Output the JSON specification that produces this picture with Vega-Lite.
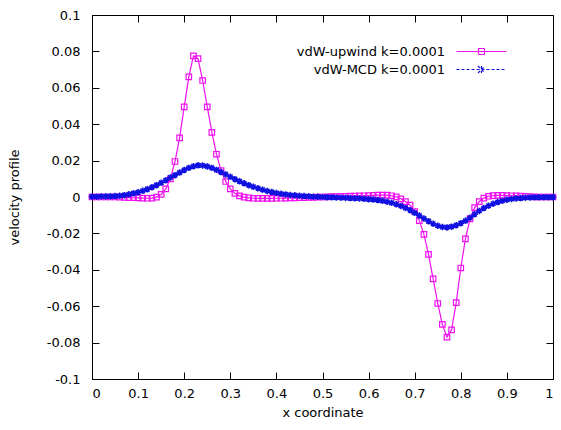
{
  "$schema": "https://vega.github.io/schema/vega-lite/v6.json",
  "width": 461,
  "height": 364,
  "autosize": {"type": "none"},
  "padding": {"left": 92, "top": 15, "right": 8, "bottom": 51},
  "background": "white",
  "config": {
    "font": "DejaVu Sans",
    "view": {"stroke": "black", "strokeWidth": 1},
    "axis": {"domain": false, "grid": false, "tickColor": "black", "tickSize": -7, "tickWidth": 1, "labelColor": "black", "labelFont": "DejaVu Sans", "labelFontSize": 13, "titleFont": "DejaVu Sans", "titleFontSize": 13, "titleFontWeight": "normal", "titleColor": "black"}
  },
  "data": {"values": [
    {"x": 0, "upwind": 0, "mcd": 0.0002},
    {"x": 0.01, "upwind": 0, "mcd": 0.0002},
    {"x": 0.02, "upwind": 0, "mcd": 0.0003},
    {"x": 0.03, "upwind": 0, "mcd": 0.0003},
    {"x": 0.04, "upwind": 0, "mcd": 0.0004},
    {"x": 0.05, "upwind": 0, "mcd": 0.0005},
    {"x": 0.06, "upwind": -0.0001, "mcd": 0.0007},
    {"x": 0.07, "upwind": -0.0002, "mcd": 0.001},
    {"x": 0.08, "upwind": -0.0003, "mcd": 0.0015},
    {"x": 0.09, "upwind": -0.0004, "mcd": 0.002},
    {"x": 0.1, "upwind": -0.0005, "mcd": 0.0026},
    {"x": 0.11, "upwind": -0.0006, "mcd": 0.0034},
    {"x": 0.12, "upwind": -0.0007, "mcd": 0.0043},
    {"x": 0.13, "upwind": -0.0006, "mcd": 0.0053},
    {"x": 0.14, "upwind": -0.0001, "mcd": 0.0065},
    {"x": 0.15, "upwind": 0.0014, "mcd": 0.0078},
    {"x": 0.16, "upwind": 0.0045, "mcd": 0.0092},
    {"x": 0.17, "upwind": 0.01, "mcd": 0.0107},
    {"x": 0.18, "upwind": 0.0195, "mcd": 0.012},
    {"x": 0.19, "upwind": 0.0325, "mcd": 0.0134},
    {"x": 0.2, "upwind": 0.0495, "mcd": 0.0148},
    {"x": 0.21, "upwind": 0.066, "mcd": 0.016},
    {"x": 0.22, "upwind": 0.0775, "mcd": 0.0169},
    {"x": 0.23, "upwind": 0.076, "mcd": 0.0174},
    {"x": 0.24, "upwind": 0.064, "mcd": 0.0173},
    {"x": 0.25, "upwind": 0.0495, "mcd": 0.0168},
    {"x": 0.26, "upwind": 0.0355, "mcd": 0.016},
    {"x": 0.27, "upwind": 0.0235, "mcd": 0.0149},
    {"x": 0.28, "upwind": 0.0145, "mcd": 0.0137},
    {"x": 0.29, "upwind": 0.0085, "mcd": 0.0124},
    {"x": 0.3, "upwind": 0.0045, "mcd": 0.0111},
    {"x": 0.31, "upwind": 0.002, "mcd": 0.0098},
    {"x": 0.32, "upwind": 0.0006, "mcd": 0.0086},
    {"x": 0.33, "upwind": -0.0001, "mcd": 0.0075},
    {"x": 0.34, "upwind": -0.0005, "mcd": 0.0065},
    {"x": 0.35, "upwind": -0.0007, "mcd": 0.0056},
    {"x": 0.36, "upwind": -0.0008, "mcd": 0.0048},
    {"x": 0.37, "upwind": -0.0008, "mcd": 0.004},
    {"x": 0.38, "upwind": -0.0008, "mcd": 0.0033},
    {"x": 0.39, "upwind": -0.0008, "mcd": 0.0027},
    {"x": 0.4, "upwind": -0.0007, "mcd": 0.0022},
    {"x": 0.41, "upwind": -0.0007, "mcd": 0.0018},
    {"x": 0.42, "upwind": -0.0006, "mcd": 0.0014},
    {"x": 0.43, "upwind": -0.0005, "mcd": 0.0011},
    {"x": 0.44, "upwind": -0.0005, "mcd": 0.0009},
    {"x": 0.45, "upwind": -0.0004, "mcd": 0.0007},
    {"x": 0.46, "upwind": -0.0003, "mcd": 0.0005},
    {"x": 0.47, "upwind": -0.0002, "mcd": 0.0004},
    {"x": 0.48, "upwind": -0.0002, "mcd": 0.0002},
    {"x": 0.49, "upwind": -0.0001, "mcd": 0.0001},
    {"x": 0.5, "upwind": 0, "mcd": 0},
    {"x": 0.51, "upwind": 0.0001, "mcd": -0.0001},
    {"x": 0.52, "upwind": 0.0002, "mcd": -0.0002},
    {"x": 0.53, "upwind": 0.0002, "mcd": -0.0003},
    {"x": 0.54, "upwind": 0.0003, "mcd": -0.0004},
    {"x": 0.55, "upwind": 0.0004, "mcd": -0.0005},
    {"x": 0.56, "upwind": 0.0005, "mcd": -0.0006},
    {"x": 0.57, "upwind": 0.0005, "mcd": -0.0007},
    {"x": 0.58, "upwind": 0.0006, "mcd": -0.0008},
    {"x": 0.59, "upwind": 0.0007, "mcd": -0.001},
    {"x": 0.6, "upwind": 0.0008, "mcd": -0.0012},
    {"x": 0.61, "upwind": 0.0009, "mcd": -0.0014},
    {"x": 0.62, "upwind": 0.001, "mcd": -0.0017},
    {"x": 0.63, "upwind": 0.001, "mcd": -0.0021},
    {"x": 0.64, "upwind": 0.001, "mcd": -0.0026},
    {"x": 0.65, "upwind": 0.0007, "mcd": -0.0032},
    {"x": 0.66, "upwind": 0.0001, "mcd": -0.004},
    {"x": 0.67, "upwind": -0.001, "mcd": -0.0049},
    {"x": 0.68, "upwind": -0.0025, "mcd": -0.006},
    {"x": 0.69, "upwind": -0.0045, "mcd": -0.0073},
    {"x": 0.7, "upwind": -0.008, "mcd": -0.0087},
    {"x": 0.71, "upwind": -0.013, "mcd": -0.0102},
    {"x": 0.72, "upwind": -0.0205, "mcd": -0.0118},
    {"x": 0.73, "upwind": -0.0315, "mcd": -0.0133},
    {"x": 0.74, "upwind": -0.045, "mcd": -0.0147},
    {"x": 0.75, "upwind": -0.0585, "mcd": -0.0158},
    {"x": 0.76, "upwind": -0.07, "mcd": -0.0165},
    {"x": 0.77, "upwind": -0.077, "mcd": -0.0167},
    {"x": 0.78, "upwind": -0.073, "mcd": -0.0163},
    {"x": 0.79, "upwind": -0.058, "mcd": -0.0155},
    {"x": 0.8, "upwind": -0.039, "mcd": -0.0144},
    {"x": 0.81, "upwind": -0.023, "mcd": -0.0131},
    {"x": 0.82, "upwind": -0.012, "mcd": -0.0114},
    {"x": 0.83, "upwind": -0.0058, "mcd": -0.0095},
    {"x": 0.84, "upwind": -0.0025, "mcd": -0.0077},
    {"x": 0.85, "upwind": -0.0006, "mcd": -0.0061},
    {"x": 0.86, "upwind": 0.0004, "mcd": -0.0048},
    {"x": 0.87, "upwind": 0.0008, "mcd": -0.0037},
    {"x": 0.88, "upwind": 0.0009, "mcd": -0.0028},
    {"x": 0.89, "upwind": 0.0009, "mcd": -0.0021},
    {"x": 0.9, "upwind": 0.0008, "mcd": -0.0015},
    {"x": 0.91, "upwind": 0.0007, "mcd": -0.0011},
    {"x": 0.92, "upwind": 0.0006, "mcd": -0.0008},
    {"x": 0.93, "upwind": 0.0005, "mcd": -0.0006},
    {"x": 0.94, "upwind": 0.0003, "mcd": -0.0004},
    {"x": 0.95, "upwind": 0.0002, "mcd": -0.0003},
    {"x": 0.96, "upwind": 0.0001, "mcd": -0.0002},
    {"x": 0.97, "upwind": 0, "mcd": -0.0002},
    {"x": 0.98, "upwind": 0, "mcd": -0.0001},
    {"x": 0.99, "upwind": 0, "mcd": -0.0001},
    {"x": 1, "upwind": 0, "mcd": -0.0001}
  ]},
  "transform": [{"fold": ["upwind", "mcd"], "as": ["series", "v"]}],
  "encoding": {
    "color": {
      "field": "series",
      "type": "nominal",
      "scale": {"domain": ["upwind", "mcd"], "range": ["#ee10ee", "#1010e0"]},
      "legend": {
        "orient": "none",
        "legendX": 383,
        "legendY": 30,
        "title": null,
        "padding": 0,
        "rowPadding": 4,
        "symbolSize": 100,
        "labelAlign": "right",
        "labelOffset": -43,
        "labelFont": "DejaVu Sans",
        "labelFontSize": 13,
        "labelColor": "black",
        "labelLimit": 400,
        "labelExpr": "datum.value === 'upwind' ? 'vdW-upwind k=0.0001' : 'vdW-MCD k=0.0001'",
        "encode": {
          "symbols": {
            "update": {
              "shape": {"signal": "datum.value === 'upwind' ? 'M-5,0L5,0M-0.6,-0.6L0.6,-0.6L0.6,0.6L-0.6,0.6Z' : 'M-5,0L5,0M-0.7,-0.7L0.7,0.7M-0.7,0.7L0.7,-0.7M0,-0.7L0,0.7'"},
              "strokeDash": {"signal": "datum.value === 'upwind' ? [1, 0] : [3, 2]"},
              "fill": {"value": "transparent"},
              "strokeWidth": {"value": 1.2},
              "opacity": {"value": 1}
            }
          }
        }
      }
    }
  },
  "layer": [
    {
      "transform": [{"filter": "datum.series === 'upwind'"}],
      "mark": {"type": "line", "strokeWidth": 1.2},
      "encoding": {
        "x": {"field": "x", "type": "quantitative", "scale": {"domain": [0, 1], "nice": false, "zero": false},
          "axis": {"orient": "bottom", "title": "x coordinate", "values": [0, 0.1, 0.2, 0.3, 0.4, 0.5, 0.6, 0.7, 0.8, 0.9, 1], "labelExpr": "'' + datum.value", "labelPadding": 15, "titlePadding": 6}},
        "y": {"field": "v", "type": "quantitative", "scale": {"domain": [-0.1, 0.1], "nice": false, "zero": false},
          "axis": {"orient": "left", "title": "velocity profile", "values": [-0.1, -0.08, -0.06, -0.04, -0.02, 0, 0.02, 0.04, 0.06, 0.08, 0.1], "labelExpr": "'' + datum.value", "labelPadding": 19, "titlePadding": 25}}
      }
    },
    {
      "transform": [{"filter": "datum.series === 'upwind'"}],
      "mark": {"type": "point", "shape": "square", "size": 30, "filled": false, "strokeWidth": 1.2, "opacity": 1},
      "encoding": {
        "x": {"field": "x", "type": "quantitative", "axis": null},
        "y": {"field": "v", "type": "quantitative", "axis": null}
      }
    },
    {
      "transform": [{"filter": "datum.series === 'mcd'"}],
      "mark": {"type": "line", "strokeWidth": 1.2, "strokeDash": [4, 3]},
      "encoding": {
        "x": {"field": "x", "type": "quantitative", "axis": null},
        "y": {"field": "v", "type": "quantitative", "axis": null}
      }
    },
    {
      "transform": [{"filter": "datum.series === 'mcd'"}],
      "mark": {"type": "point", "shape": "M-1,0L1,0M0,-1L0,1M-0.7,-0.7L0.7,0.7M-0.7,0.7L0.7,-0.7", "size": 42, "filled": false, "strokeWidth": 1.6, "opacity": 1},
      "encoding": {
        "x": {"field": "x", "type": "quantitative",
          "axis": {"orient": "top", "title": null, "labels": false, "values": [0, 0.1, 0.2, 0.3, 0.4, 0.5, 0.6, 0.7, 0.8, 0.9, 1]}},
        "y": {"field": "v", "type": "quantitative",
          "axis": {"orient": "right", "title": null, "labels": false, "values": [-0.1, -0.08, -0.06, -0.04, -0.02, 0, 0.02, 0.04, 0.06, 0.08, 0.1]}}
      }
    }
  ],
  "resolve": {"axis": {"x": "independent", "y": "independent"}}
}
